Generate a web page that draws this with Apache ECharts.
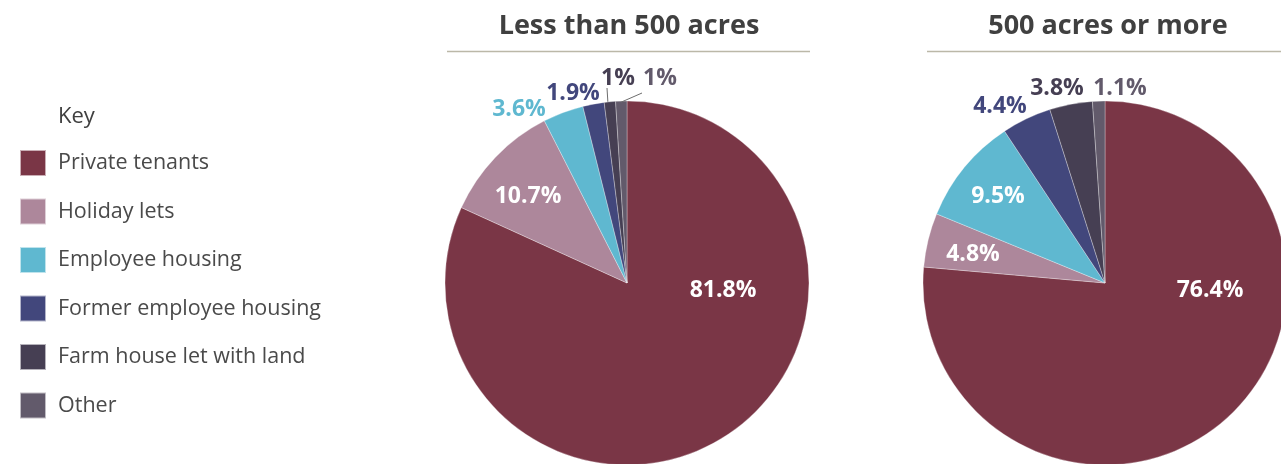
<!DOCTYPE html>
<html>
<head>
<meta charset="utf-8">
<script src="https://cdn.jsdelivr.net/npm/echarts@6/dist/echarts.min.js"></script>
<style>
  html, body { margin: 0; padding: 0; background: #fff; }
  #chart { width: 1281px; height: 464px; }
</style>
</head>
<body>
<div id="chart"></div>
<script>
// Tenure of let dwellings on estates, split by estate size
const categories = ['Private tenants', 'Holiday lets', 'Employee housing', 'Former employee housing', 'Farm house let with land', 'Other'];
const smallEstates = [81.8, 10.7, 3.6, 1.9, 1, 1];
const largeEstates = [76.4, 4.8, 9.5, 4.4, 3.8, 1.1];
const panelTitles = ['Less than 500 acres', '500 acres or more'];
const legendTitle = 'Key';

const palette = ['#7a3646', '#ad879b', '#5fb8d0', '#42477c', '#463f53', '#625a6b'];
const FONT = '"Open Sans", "Noto Sans", sans-serif';
const RADIUS = 182;
const pies = [
  { center: [627, 283], values: smallEstates, title: panelTitles[0],
    // label offsets from the pie centre, and which slices are labelled outside
    offsets: [[96, 7], [-99, -87], [-108, -174], [-54, -190], [-9, -205], [33, -205]],
    outside: [false, false, true, true, true, true],
    leaders: { 4: [[-2, 0], [607, 88]], 5: [[0, 1], [642, 93]] },
    rule: [447, 810], titleX: 629 },
  { center: [1105, 283], values: largeEstates, title: panelTitles[1],
    offsets: [[105, 7], [-132, -29], [-107, -87], [-105, -177], [-48, -195], [15, -195]],
    outside: [false, false, false, true, true, true],
    leaders: {},
    rule: [927, 1281], titleX: 1108 }
];

// point on the rim at the middle angle of a slice
function arcPoint(pie, idx) {
  const total = pie.values.reduce((a, b) => a + b, 0);
  let before = 0;
  for (let i = 0; i < idx; i++) before += pie.values[i];
  const mid = (before + pie.values[idx] / 2) / total * Math.PI * 2;
  return [pie.center[0] + RADIUS * Math.sin(mid), pie.center[1] - RADIUS * Math.cos(mid)];
}

const series = pies.map(pie => ({
  type: 'pie',
  radius: RADIUS,
  center: pie.center,
  startAngle: 90,
  clockwise: true,
  silent: true,
  animation: false,
  itemStyle: { borderColor: 'rgba(255,255,255,0.6)', borderWidth: 0.5 },
  labelLine: { show: false },
  data: categories.map((name, i) => ({
    name,
    value: pie.values[i],
    itemStyle: { color: palette[i] },
    label: {
      show: true,
      position: 'inside',
      formatter: '{c}%',
      fontFamily: FONT,
      fontWeight: 'bold',
      fontSize: 23,
      color: pie.outside[i] ? palette[i] : '#ffffff'
    }
  })),
  labelLayout: function (p) {
    const off = pie.offsets[p.dataIndex];
    return {
      x: pie.center[0] + off[0],
      y: pie.center[1] + off[1],
      align: 'center',
      verticalAlign: 'middle',
      hideOverlap: false
    };
  }
}));

// leader lines from the thin slices up to their labels
const leaderLines = [];
pies.forEach(pie => {
  Object.keys(pie.leaders).forEach(k => {
    const idx = Number(k);
    const [shift, end] = pie.leaders[k];
    const start = arcPoint(pie, idx);
    leaderLines.push({
      type: 'line',
      silent: true,
      z: 100,
      shape: { x1: start[0] + shift[0], y1: start[1] + shift[1], x2: end[0], y2: end[1] },
      style: { stroke: '#6d6d6d', lineWidth: 1 }
    });
  });
});

const chart = echarts.init(document.getElementById('chart'), null, { renderer: 'canvas' });
chart.setOption({
  backgroundColor: '#ffffff',
  textStyle: { fontFamily: FONT },
  title: pies.map(pie => ({
    text: pie.title,
    left: pie.titleX,
    top: 13,
    padding: 0,
    textAlign: 'center',
    textStyle: { fontFamily: FONT, fontWeight: 'bold', fontSize: 27, color: '#404040' }
  })).concat([{
    text: legendTitle,
    left: 53,
    top: 101,
    textStyle: { fontFamily: FONT, fontWeight: 'normal', fontSize: 22, color: '#404040' }
  }]),
  legend: {
    orient: 'vertical',
    left: 19,
    top: 149,
    padding: 0,
    icon: 'rect',
    itemWidth: 26,
    itemHeight: 26,
    itemGap: 20.5,
    selectedMode: false,
    data: categories,
    textStyle: { fontFamily: FONT, fontSize: 21.5, color: '#4a4a4a', padding: [0, 0, 0, 7], lineHeight: 26 }
  },
  graphic: pies.map(pie => ({
    type: 'line',
    silent: true,
    shape: { x1: pie.rule[0], y1: 51.5, x2: pie.rule[1], y2: 51.5 },
    style: { stroke: '#bbb8a8', lineWidth: 1.5 }
  })).concat(leaderLines),
  series
});
</script>
</body>
</html>
